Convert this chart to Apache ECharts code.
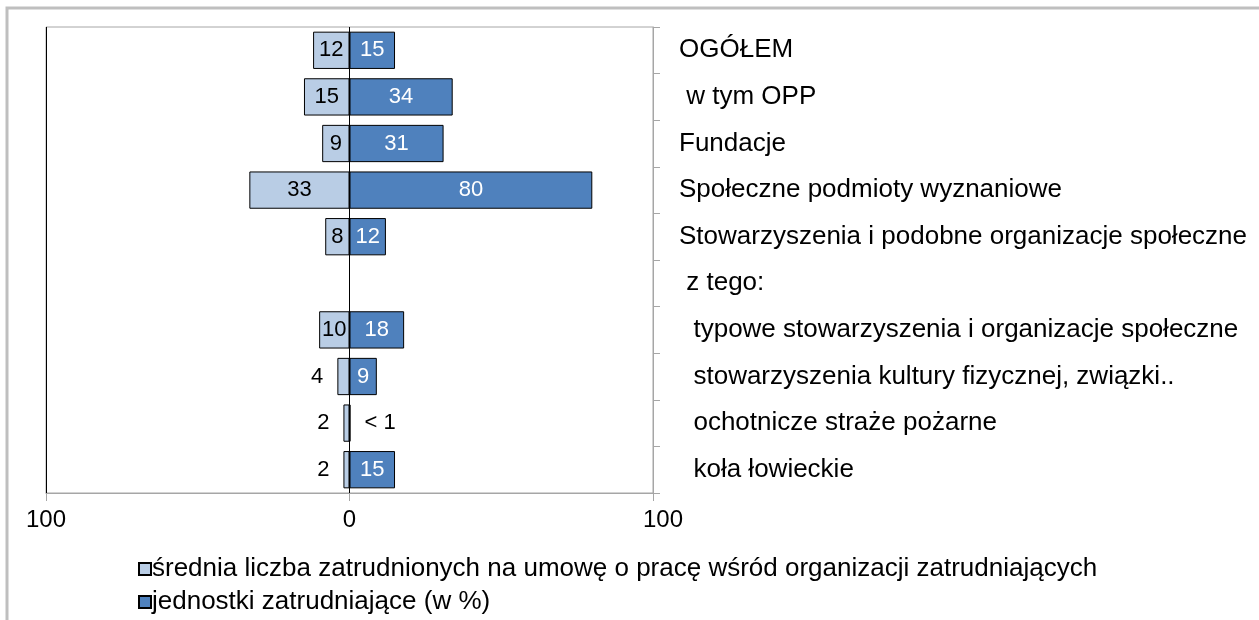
<!DOCTYPE html>
<html style="height: 100%">
<head>
    <meta charset="utf-8">
</head>
<body style="height: 100%; margin: 0; background: #fff">
    <div id="container" style="width: 1259px; height: 620px;"></div>
    <script type="text/javascript" src="https://cdn.jsdelivr.net/npm/echarts@6/dist/echarts.min.js"></script>
    <script type="text/javascript">
        var categories = ['OGÓŁEM', ' w tym OPP', 'Fundacje', 'Społeczne podmioty wyznaniowe',
            'Stowarzyszenia i podobne organizacje społeczne', ' z tego:',
            '  typowe stowarzyszenia i organizacje społeczne', '  stowarzyszenia kultury fizycznej, związki..',
            '  ochotnicze straże pożarne', '  koła łowieckie'];
        var avgEmployed = [12, 15, 9, 33, 8, null, 10, 4, 2, 2];
        var unitsShare = [15, 34, 31, 80, 12, null, 18, 9, 0.3, 15];
        var xTicks = [-100, 0, 100];

        var nameAvg = 'średnia liczba zatrudnionych na umowę o pracę wśród organizacji zatrudniających';
        var nameUnits = 'jednostki zatrudniające (w %)';

        var font = 'Liberation Sans, Arial, sans-serif';
        var dom = document.getElementById('container');
        var myChart = echarts.init(dom);

        // left bars: negative values, label inside unless the bar is too narrow
        var leftData = avgEmployed.map(function (v) {
            if (v == null) return null;
            var narrow = v < 5;
            return {
                value: -v,
                label: {
                    position: narrow ? 'left' : 'inside',
                    distance: 14
                }
            };
        });
        var rightData = unitsShare.map(function (v) {
            if (v == null) return null;
            var tiny = v < 1;
            return {
                value: v,
                label: {
                    position: tiny ? 'right' : 'inside',
                    distance: 14,
                    color: tiny ? '#000' : '#fff'
                }
            };
        });

        var option = {
            backgroundColor: '#fff',
            animation: false,
            textStyle: { fontFamily: font },
            graphic: [{
                type: 'rect',
                shape: { x: 7, y: 8, width: 1300, height: 700 },
                style: { fill: 'none', stroke: '#BFBFBF', lineWidth: 3 }
            }],
            grid: { left: 46, right: 606, top: 27, bottom: 127, show: true, borderColor: '#A6A6A6', borderWidth: 1 },
            legend: {
                orient: 'vertical',
                left: 138,
                top: 556,
                height: 120,
                padding: 0,
                itemWidth: 12,
                itemHeight: 12,
                itemGap: 7,
                icon: 'rect',
                textStyle: { fontFamily: font, fontSize: 26, color: '#000', padding: [0, 0, 0, -4] },
                data: [nameAvg, nameUnits]
            },
            xAxis: {
                type: 'value',
                min: -100,
                max: 100,
                interval: 100,
                axisLine: { show: true, lineStyle: { color: '#A6A6A6' } },
                axisTick: { show: true, length: 8, lineStyle: { color: '#A6A6A6' } },
                splitLine: { show: false },
                axisLabel: {
                    margin: 15,
                    color: '#000',
                    fontSize: 24,
                    formatter: function (v) {
                        return v === xTicks[2] ? '{r|' + v + '}' : '{n|' + Math.abs(v) + '}';
                    },
                    rich: {
                        n: { fontSize: 24, fontFamily: font, color: '#000' },
                        r: { fontSize: 24, fontFamily: font, color: '#000', padding: [0, 0, 10, 20] }
                    }
                }
            },
            yAxis: [{
                type: 'category',
                data: categories,
                inverse: true,
                position: 'right',
                axisLine: { show: true, onZero: false, lineStyle: { color: '#A6A6A6' } },
                axisTick: { show: true, length: 7, lineStyle: { color: '#A6A6A6' } },
                axisLabel: { margin: 26, color: '#000', fontSize: 26, align: 'left', fontFamily: font }
            }],
            series: [{
                name: nameAvg,
                type: 'bar',
                stack: 'a',
                barWidth: '80%',
                data: leftData,
                itemStyle: { color: '#B9CDE5', borderColor: '#000', borderWidth: 1 },
                label: {
                    show: true,
                    color: '#000',
                    fontSize: 22,
                    fontFamily: font,
                    formatter: function (p) { return Math.abs(p.value); }
                },
                markLine: {
                    silent: true,
                    symbol: 'none',
                    label: { show: false },
                    lineStyle: { color: '#000', width: 1, type: 'solid' },
                    data: [{ xAxis: xTicks[0] }, { xAxis: xTicks[1] }]
                }
            }, {
                name: nameUnits,
                type: 'bar',
                stack: 'a',
                barWidth: '80%',
                data: rightData,
                itemStyle: { color: '#4F81BD', borderColor: '#000', borderWidth: 1 },
                label: {
                    show: true,
                    fontSize: 22,
                    fontFamily: font,
                    formatter: function (p) { return p.value < 1 ? '< 1' : p.value; }
                }
            }]
        };

        if (option && typeof option === 'object') {
            myChart.setOption(option, true);
        }
    </script>
</body>
</html>
